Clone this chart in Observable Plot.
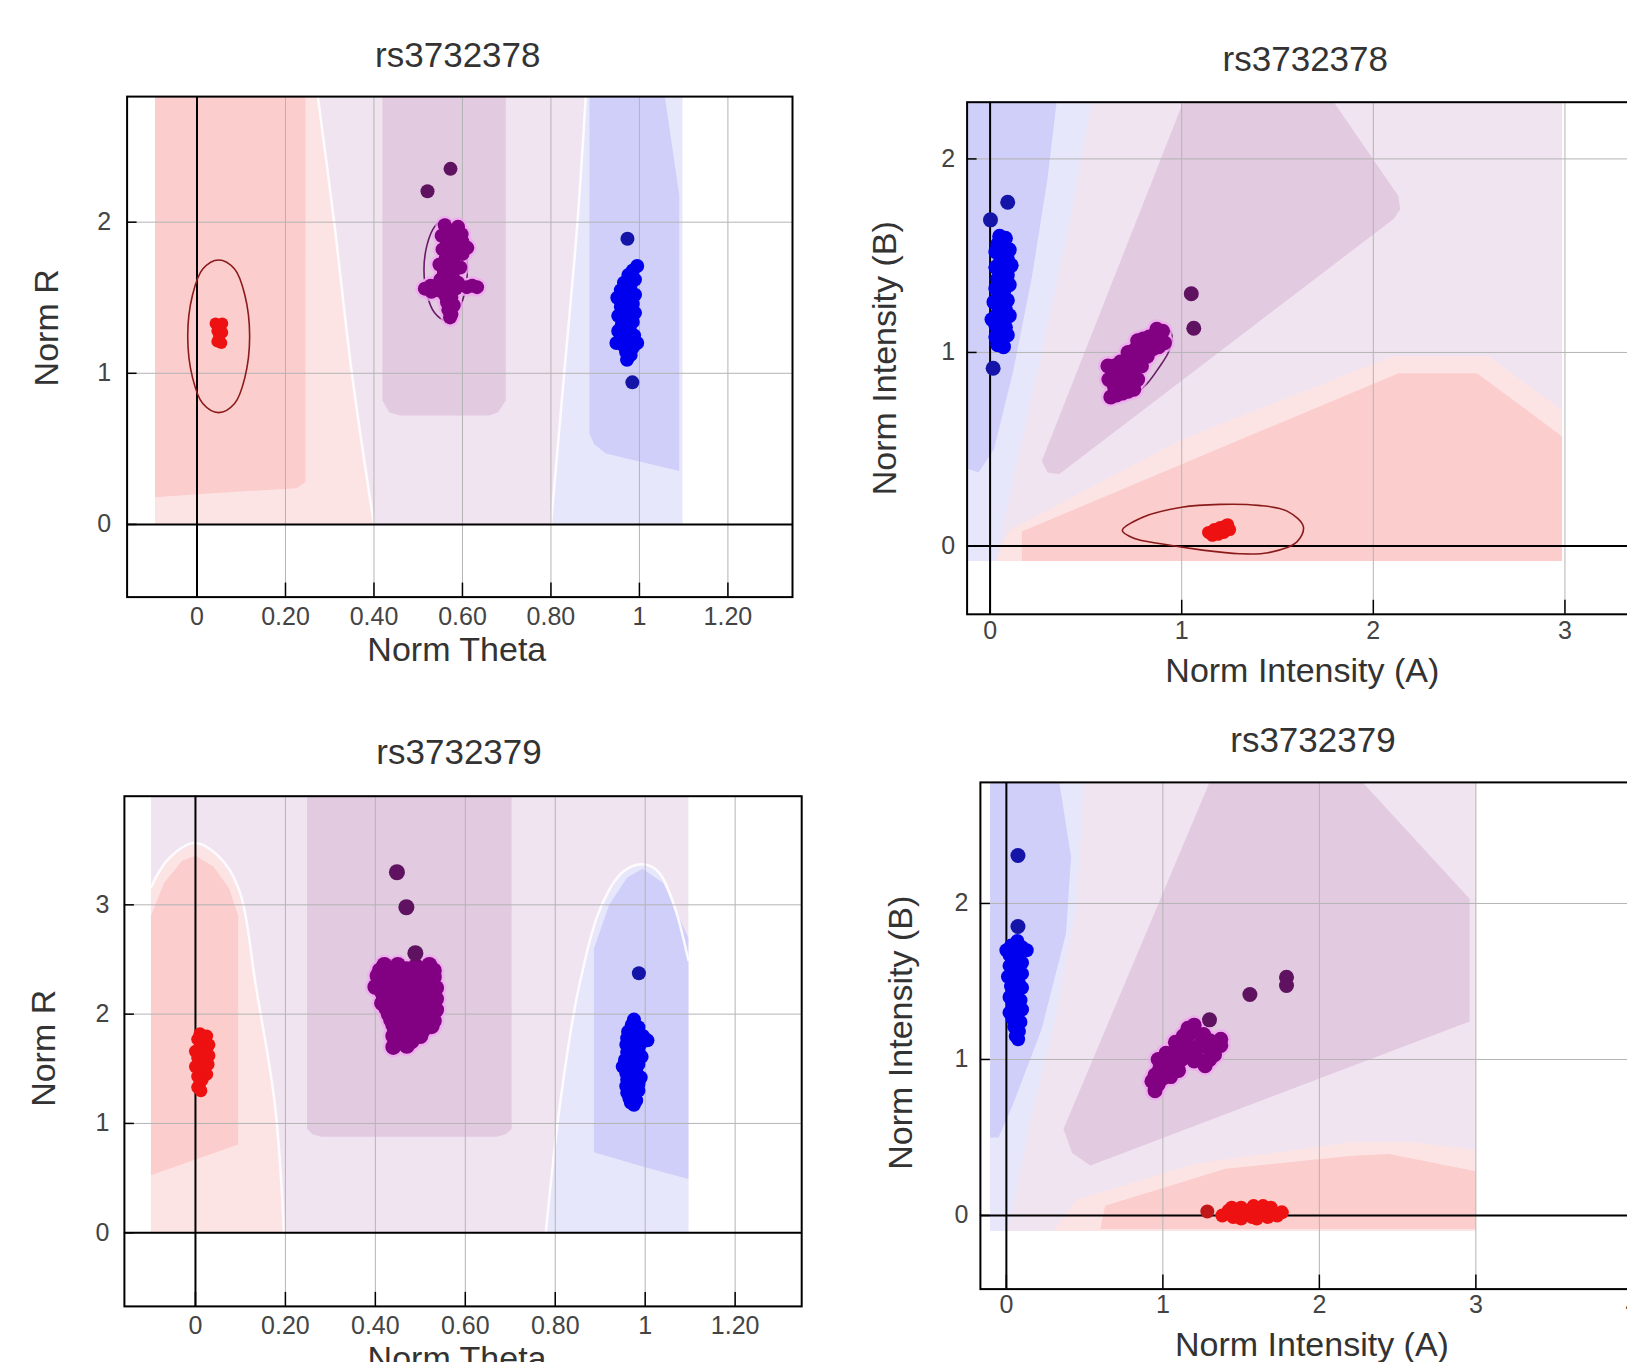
<!DOCTYPE html>
<html><head><meta charset="utf-8">
<script src="https://cdn.jsdelivr.net/npm/d3@7"></script>
<script src="https://cdn.jsdelivr.net/npm/@observablehq/plot@0.6"></script>
<style>
html,body{margin:0;padding:0;overflow:hidden;background:#fff;width:1627px;height:1362px;}
#wrap{position:relative;width:1627px;height:1362px;overflow:hidden;background:#fff;}
.panel{position:absolute;overflow:visible;}
.panel svg{max-width:none !important;display:block;}
</style></head><body><div id="wrap"></div>
<script>
// ---------------- text ----------------
const titles = ["rs3732378", "rs3732378", "rs3732379", "rs3732379"];
const xLabels = ["Norm Theta", "Norm Intensity (A)", "Norm Theta", "Norm Intensity (A)"];
const yLabels = ["Norm R", "Norm Intensity (B)", "Norm R", "Norm Intensity (B)"];
const thetaTicks = [0, 0.2, 0.4, 0.6, 0.8, 1, 1.2];
const thetaTickLabels = ["0", "0.20", "0.40", "0.60", "0.80", "1", "1.20"];
const intTicks2 = [0, 1, 2, 3];
const intTicks4 = [0, 1, 2, 3, 4];
const rTicks1 = [0, 1, 2];
const rTicks3 = [0, 1, 2, 3];
const bTicks = [0, 1, 2];

// ---------------- panel 1 : rs3732378 theta / R ----------------
const p1AA = [[0.042,1.33],[0.057,1.33],[0.046,1.28],[0.057,1.27],[0.05,1.24],[0.046,1.21],[0.055,1.2]];
const p1AB = [[0.560,1.98],[0.590,1.97],[0.575,1.94],[0.598,1.92],[0.553,1.91],[0.573,1.89],[0.600,1.87],[0.565,1.86],[0.585,1.85],[0.611,1.83],[0.555,1.82],[0.575,1.80],[0.600,1.79],[0.562,1.76],[0.580,1.74],[0.548,1.72],[0.570,1.70],[0.595,1.70],[0.558,1.67],[0.578,1.65],[0.550,1.62],[0.570,1.62],[0.590,1.60],[0.528,1.58],[0.515,1.56],[0.545,1.55],[0.565,1.57],[0.585,1.56],[0.610,1.57],[0.622,1.58],[0.633,1.57],[0.530,1.54],[0.560,1.52],[0.575,1.50],[0.565,1.47],[0.580,1.45],[0.568,1.42],[0.575,1.39],[0.572,1.37]];
const p1ABout = [[0.573,2.353],[0.521,2.205]];
const p1BB = [[0.995,1.71],[0.985,1.68],[0.975,1.65],[0.99,1.62],[0.965,1.6],[0.98,1.58],[0.958,1.55],[0.975,1.54],[0.99,1.52],[0.95,1.5],[0.968,1.48],[0.985,1.46],[0.958,1.44],[0.975,1.42],[0.99,1.4],[0.952,1.38],[0.968,1.36],[0.985,1.34],[0.96,1.32],[0.978,1.3],[0.952,1.28],[0.97,1.26],[0.988,1.25],[0.958,1.23],[0.975,1.21],[0.948,1.2],[0.995,1.2],[0.965,1.18],[0.985,1.17],[0.97,1.14],[0.98,1.12],[0.972,1.09]];
const p1BBout = [[0.973,1.89],[0.984,0.94]];
const p1EllAA = [[0.049,1.75],[0.085,1.69],[0.108,1.52],[0.119,1.245],[0.108,0.97],[0.085,0.80],[0.049,0.74],[0.013,0.80],[-0.010,0.97],[-0.021,1.245],[-0.010,1.52],[0.013,1.69]];
const p1EllAB = [[0.562,2.02],[0.587,1.97],[0.604,1.85],[0.611,1.685],[0.604,1.52],[0.587,1.40],[0.562,1.35],[0.537,1.40],[0.52,1.52],[0.513,1.685],[0.52,1.85],[0.537,1.97]];
const p1Regions = [
  {kind:"purpleOuter", pts:[[-0.095,0],[-0.095,2.9],[1.097,2.9],[1.097,0]]},
  {kind:"redOuter", pts:[[-0.095,0],[-0.095,2.9],[0.27,2.9],[0.31,2.0],[0.35,1.0],[0.40,0]]},
  {kind:"blueOuter", pts:[[0.80,0],[0.83,1.0],[0.86,2.0],[0.88,2.9],[1.097,2.9],[1.097,0]]},
  {kind:"redInner", pts:[[-0.095,0.18],[-0.095,2.9],[0.245,2.9],[0.245,0.28],[0.225,0.24],[0.0,0.2]]},
  {kind:"purpleInner", pts:[[0.419,0.82],[0.419,2.9],[0.698,2.9],[0.698,0.82],[0.68,0.74],[0.66,0.72],[0.46,0.72],[0.435,0.74]]},
  {kind:"blueInner", pts:[[0.887,0.6],[0.887,2.9],[1.054,2.9],[1.09,2.18],[1.09,0.354],[0.924,0.469],[0.898,0.531]]}
];
const p1Bounds = [
  [[0.27,2.9],[0.31,2.0],[0.35,1.0],[0.40,0]],
  [[0.80,0],[0.83,1.0],[0.86,2.0],[0.88,2.9]]
];

// ---------------- panel 2 : rs3732378 A / B ----------------
const p2AA = [[1.14,0.07],[1.17,0.085],[1.2,0.095],[1.23,0.105],[1.22,0.07],[1.25,0.085],[1.19,0.06],[1.16,0.055],[1.21,0.08],[1.24,0.11]];
const p2AB = [[0.63,0.77],[0.66,0.78],[0.69,0.79],[0.72,0.80],[0.75,0.81],[0.62,0.86],[0.65,0.82],[0.68,0.84],[0.71,0.85],[0.74,0.86],[0.77,0.86],[0.64,0.88],[0.67,0.90],[0.70,0.90],[0.73,0.91],[0.76,0.92],[0.79,0.93],[0.615,0.93],[0.65,0.93],[0.68,0.95],[0.71,0.96],[0.74,0.97],[0.77,0.98],[0.80,0.99],[0.72,1.00],[0.75,1.01],[0.78,1.03],[0.81,1.04],[0.84,1.05],[0.77,1.06],[0.80,1.07],[0.83,1.08],[0.86,1.09],[0.89,1.07],[0.85,1.02],[0.88,1.03],[0.82,0.98],[0.87,1.12],[0.90,1.11],[0.91,1.05]];
const p2ABout = [[1.05,1.303],[1.063,1.125]];
const p2BB = [[0.05,1.60],[0.08,1.59],[0.04,1.56],[0.07,1.55],[0.10,1.53],[0.03,1.52],[0.06,1.50],[0.09,1.48],[0.05,1.46],[0.11,1.45],[0.03,1.44],[0.07,1.42],[0.09,1.40],[0.04,1.38],[0.06,1.36],[0.10,1.35],[0.03,1.33],[0.07,1.31],[0.05,1.29],[0.09,1.27],[0.02,1.26],[0.06,1.24],[0.08,1.22],[0.04,1.20],[0.10,1.19],[0.01,1.17],[0.06,1.16],[0.03,1.14],[0.08,1.13],[0.05,1.11],[0.09,1.09],[0.03,1.08],[0.06,1.06],[0.04,1.04],[0.07,1.03]];
const p2BBout = [[0.092,1.776],[0.002,1.685],[0.016,0.918]];
const p2EllAA = [[0.69,0.08],[0.8,0.15],[1.0,0.2],[1.2,0.215],[1.4,0.21],[1.55,0.18],[1.635,0.1],[1.6,0.02],[1.45,-0.035],[1.3,-0.04],[1.1,-0.02],[0.9,0.01],[0.75,0.04]];
const p2EllAB = [[0.93,1.12],[0.95,1.08],[0.93,1.0],[0.88,0.92],[0.82,0.84],[0.76,0.79],[0.7,0.76],[0.66,0.77],[0.66,0.82],[0.7,0.9],[0.76,0.98],[0.82,1.05],[0.88,1.1]];
const p2Regions = [
  {kind:"purpleOuter", pts:[[-0.12,-0.077],[-0.12,2.4],[2.985,2.4],[2.985,-0.077]]},
  {kind:"blueOuter", pts:[[-0.12,-0.077],[-0.12,2.4],[0.55,2.4],[0.42,1.7],[0.27,1.0],[0.12,0.35],[0.03,-0.077]]},
  {kind:"blueInner", pts:[[-0.12,0.4],[-0.12,2.4],[0.36,2.4],[0.3,1.9],[0.22,1.4],[0.12,0.9],[0.02,0.5],[-0.06,0.38]]},
  {kind:"redOuter", pts:[[0.03,-0.077],[0.1,0.08],[1.0,0.55],[2.1,0.98],[2.6,0.98],[2.985,0.7],[2.985,-0.077]]},
  {kind:"redInner", pts:[[0.166,-0.077],[0.166,0.075],[2.132,0.893],[2.541,0.893],[2.985,0.566],[2.985,-0.077]]},
  {kind:"purpleInner", pts:[[1.05,2.4],[1.72,2.4],[2.13,1.81],[2.14,1.74],[2.106,1.69],[0.36,0.37],[0.30,0.38],[0.27,0.44]]}
];

// ---------------- panel 3 : rs3732379 theta / R ----------------
const p3AA = [[0.01,1.82],[0.025,1.8],[0.005,1.77],[0.02,1.75],[0.03,1.72],[0.01,1.7],[0.025,1.68],[0.0,1.66],[0.015,1.64],[0.03,1.62],[0.005,1.6],[0.02,1.58],[0.01,1.55],[0.028,1.54],[0.0,1.52],[0.018,1.5],[0.01,1.47],[0.025,1.45],[0.005,1.43],[0.015,1.4],[0.01,1.37],[0.005,1.33],[0.012,1.3]];
const p3AB = [[0.42,2.45],[0.45,2.45],[0.49,2.44],[0.52,2.45],[0.41,2.40],[0.44,2.40],[0.47,2.41],[0.50,2.40],[0.53,2.40],[0.405,2.35],[0.43,2.35],[0.46,2.35],[0.48,2.36],[0.51,2.35],[0.53,2.34],[0.41,2.30],[0.44,2.30],[0.47,2.30],[0.50,2.30],[0.525,2.29],[0.40,2.25],[0.425,2.25],[0.455,2.25],[0.485,2.25],[0.515,2.25],[0.535,2.24],[0.415,2.20],[0.44,2.20],[0.47,2.20],[0.50,2.20],[0.525,2.19],[0.42,2.15],[0.45,2.15],[0.48,2.15],[0.51,2.15],[0.535,2.14],[0.415,2.10],[0.44,2.10],[0.465,2.10],[0.495,2.10],[0.52,2.10],[0.425,2.05],[0.455,2.05],[0.485,2.05],[0.51,2.05],[0.535,2.04],[0.43,2.00],[0.46,2.00],[0.49,2.00],[0.52,2.00],[0.435,1.95],[0.465,1.95],[0.50,1.95],[0.53,1.94],[0.44,1.90],[0.47,1.90],[0.505,1.90],[0.525,1.89],[0.445,1.85],[0.475,1.85],[0.505,1.85],[0.44,1.80],[0.47,1.80],[0.50,1.80],[0.45,1.75],[0.48,1.75],[0.44,1.70],[0.47,1.71]];
const p3ABout = [[0.448,3.298],[0.469,2.978],[0.489,2.557]];
const p3BB = [[0.975,1.95],[0.97,1.9],[0.985,1.88],[0.962,1.84],[0.98,1.82],[0.995,1.8],[0.96,1.78],[0.975,1.76],[1.005,1.76],[0.99,1.73],[0.958,1.72],[0.972,1.7],[0.985,1.67],[0.96,1.65],[0.978,1.63],[0.992,1.61],[0.955,1.58],[0.97,1.56],[0.985,1.54],[0.95,1.52],[0.965,1.5],[0.98,1.48],[0.958,1.46],[0.975,1.44],[0.99,1.42],[0.96,1.4],[0.972,1.38],[0.985,1.36],[0.958,1.34],[0.97,1.32],[0.985,1.3],[0.96,1.28],[0.975,1.26],[0.965,1.23],[0.98,1.21],[0.968,1.19],[0.975,1.17]];
const p3BBout = [[0.986,2.374]];
const p3Regions = [
  {kind:"purpleOuter", pts:[[-0.099,0],[-0.099,4.1],[1.096,4.1],[1.096,0]]},
  {kind:"redOuter", pts:[[-0.099,0],[-0.099,3.16],[-0.06,3.42],[-0.002,3.565],[0.05,3.45],[0.095,3.16],[0.136,2.213],[0.177,1.159],[0.197,0]]},
  {kind:"redInner", pts:[[-0.099,0.527],[-0.099,2.9],[-0.07,3.2],[-0.03,3.4],[0.0,3.45],[0.04,3.35],[0.075,3.15],[0.095,2.9],[0.095,0.808]]},
  {kind:"purpleInner", pts:[[0.248,0.95],[0.248,4.1],[0.703,4.1],[0.703,0.95],[0.69,0.9],[0.67,0.878],[0.28,0.878],[0.26,0.9]]},
  {kind:"blueOuter", pts:[[0.779,0],[0.81,1.159],[0.851,2.213],[0.902,2.985],[0.95,3.3],[0.994,3.372],[1.03,3.3],[1.065,2.985],[1.096,2.494],[1.096,0]]},
  {kind:"blueInner", pts:[[0.886,0.737],[0.886,2.6],[0.92,3.0],[0.96,3.25],[0.994,3.33],[1.04,3.2],[1.096,2.7],[1.096,0.491],[1.0,0.6]]}
];
const p3Bounds = [
  [[-0.099,3.16],[-0.06,3.42],[-0.002,3.565],[0.05,3.45],[0.095,3.16],[0.136,2.213],[0.177,1.159],[0.197,0]],
  [[0.779,0],[0.81,1.159],[0.851,2.213],[0.902,2.985],[0.95,3.3],[0.994,3.372],[1.03,3.3],[1.065,2.985],[1.096,2.494]]
];

// ---------------- panel 4 : rs3732379 A / B ----------------
const p4AA = [[1.38,0.0],[1.42,0.03],[1.45,-0.01],[1.48,0.02],[1.5,0.05],[1.52,0.0],[1.55,0.03],[1.57,-0.01],[1.6,0.04],[1.62,0.01],[1.65,0.03],[1.67,-0.01],[1.7,0.02],[1.73,0.0],[1.76,0.02],[1.44,0.05],[1.58,0.06],[1.64,0.06],[1.5,-0.02],[1.6,-0.02],[1.69,0.05]];
const p4AAout = [[1.284,0.025]];
const p4AB = [[0.95,0.8],[0.93,0.86],[0.97,0.84],[0.95,0.9],[1.0,0.88],[0.98,0.94],[1.03,0.92],[1.0,0.98],[1.06,0.95],[1.03,1.01],[1.09,0.98],[1.06,1.04],[1.12,1.0],[0.97,1.0],[1.02,1.04],[1.09,1.07],[1.15,1.03],[1.12,1.09],[1.18,1.05],[1.08,1.11],[1.15,1.12],[1.21,1.07],[1.13,1.15],[1.18,1.17],[1.2,1.22],[1.16,1.2],[1.24,1.1],[1.28,1.08],[1.33,1.06],[1.37,1.09],[1.37,1.13],[1.3,1.12],[1.27,0.96],[1.23,1.0],[1.3,1.0],[1.2,0.99],[1.1,0.93],[1.05,0.89],[1.26,1.16],[1.33,1.03]];
const p4ABout = [[1.298,1.254],[1.556,1.416],[1.79,1.527],[1.79,1.474]];
const p4BB = [[0.07,1.76],[0.03,1.73],[0.1,1.72],[0.0,1.7],[0.06,1.7],[0.13,1.7],[0.02,1.67],[0.08,1.66],[0.05,1.63],[0.1,1.62],[0.02,1.6],[0.07,1.58],[0.04,1.56],[0.1,1.55],[0.01,1.53],[0.06,1.52],[0.08,1.49],[0.03,1.47],[0.1,1.46],[0.05,1.44],[0.07,1.41],[0.02,1.4],[0.09,1.38],[0.04,1.36],[0.06,1.33],[0.1,1.32],[0.02,1.3],[0.07,1.28],[0.04,1.26],[0.09,1.24],[0.05,1.21],[0.08,1.18],[0.06,1.15],[0.075,1.13]];
const p4BBout = [[0.074,2.307],[0.074,1.852]];
const p4Regions = [
  {kind:"purpleOuter", pts:[[-0.104,-0.099],[-0.104,2.9],[3.0,2.9],[3.0,-0.099]]},
  {kind:"blueOuter", pts:[[-0.104,-0.099],[-0.104,2.9],[0.5,2.9],[0.45,2.0],[0.3,1.2],[0.15,0.6],[0.05,0.1],[0.0,-0.099]]},
  {kind:"blueInner", pts:[[-0.104,0.5],[-0.104,2.9],[0.319,2.9],[0.413,2.3],[0.381,1.808],[0.225,1.194],[0.038,0.701],[-0.05,0.5]]},
  {kind:"purpleInner", pts:[[1.35,2.9],[2.163,2.9],[2.96,2.03],[2.96,1.243],[0.537,0.32],[0.42,0.4],[0.365,0.554]]},
  {kind:"redOuter", pts:[[0.3,-0.099],[0.45,0.1],[1.2,0.33],[2.2,0.47],[2.6,0.47],[3.0,0.42],[3.0,-0.099]]},
  {kind:"redInner", pts:[[0.6,-0.087],[0.631,0.062],[1.4,0.3],[2.194,0.381],[2.444,0.394],[3.0,0.283],[3.0,-0.087]]}
];

// ---------------- styles ----------------
const FONT = '"Liberation Sans",Arial,sans-serif';
const regionFill = {purpleOuter:"#f1e4f1", redOuter:"#fde4e4", blueOuter:"#e7e7fc", redInner:"#fbcdcd", purpleInner:"#e2cae1", blueInner:"#cfcff9"};
const C = {AA:"#ee1111", AAout:"#c01818", AB:"#820082", ABout:"#5e1260", BB:"#0000ee", BBout:"#1414a8", ABhalo:"#f0a8f0", ell1:"#8b1a1a", ell2:"#6a1a6a"};

const panels = [
  {pos:[0,0], box:{w:830,h:690,ml:126.6,mr:38,mt:96.1,mb:93.4}, xDom:[-0.158,1.346], yDom:[-0.481,2.831],
   xTicks:thetaTicks, xTickLabels:thetaTickLabels, yTicks:rTicks1, xPad:10, yPad:16,
   regions:p1Regions, bounds:p1Bounds, ells:[{pts:p1EllAA,c:C.ell1},{pts:p1EllAB,c:C.ell2}],
   clusters:[{pts:p1AA,c:C.AA,r:6},{pts:p1AB,c:C.AB,r:7,halo:C.ABhalo},{pts:p1ABout,c:C.ABout,r:7},{pts:p1BB,c:C.BB,r:7},{pts:p1BBout,c:C.BBout,r:7}],
   title:{dx:-2,dy:-41}, xl:{dx:-3,dy:53}, yl:{dx:-80,dy:-19}},
  {pos:[830,0], box:{w:830,h:700,ml:136.6,mr:17,mt:101.7,mb:86.2}, xDom:[-0.12,3.41], yDom:[-0.353,2.293],
   xTicks:intTicks2, xTickLabels:["0","1","2","3"], yTicks:bTicks, xPad:7, yPad:12,
   regions:p2Regions, bounds:[], ells:[{pts:p2EllAA,c:C.ell1},{pts:p2EllAB,c:C.ell2}],
   clusters:[{pts:p2AA,c:C.AA,r:6.5},{pts:p2AB,c:C.AB,r:7.5,halo:C.ABhalo},{pts:p2ABout,c:C.ABout,r:7.5},{pts:p2BB,c:C.BB,r:7.5},{pts:p2BBout,c:C.BBout,r:7.5}],
   title:{dx:0,dy:-42}, xl:{dx:-3,dy:57}, yl:{dx:-81.6,dy:0}},
  {pos:[0,700], box:{w:830,h:700,ml:123.9,mr:28.8,mt:95.7,mb:94.1}, xDom:[-0.158,1.348], yDom:[-0.674,3.994],
   xTicks:thetaTicks, xTickLabels:thetaTickLabels, yTicks:rTicks3, xPad:10, yPad:15,
   regions:p3Regions, bounds:p3Bounds, ells:[],
   clusters:[{pts:p3AA,c:C.AA,r:6.5},{pts:p3AB,c:C.AB,r:8,halo:C.ABhalo},{pts:p3ABout,c:C.ABout,r:8},{pts:p3BB,c:C.BB,r:7},{pts:p3BBout,c:C.BBout,r:7}],
   title:{dx:-4,dy:-43.7}, xl:{dx:-6,dy:53}, yl:{dx:-80.3,dy:-3}},
  {pos:[830,700], box:{w:830,h:700,ml:149.9,mr:15,mt:81.9,mb:111.4}, xDom:[-0.166,4.084], yDom:[-0.472,2.776],
   xTicks:intTicks4, xTickLabels:["0","1","2","3","4"], yTicks:bTicks, xPad:6, yPad:12,
   regions:p4Regions, bounds:[], ells:[],
   clusters:[{pts:p4AA,c:C.AA,r:7},{pts:p4AAout,c:C.AAout,r:7},{pts:p4AB,c:C.AB,r:7.5,halo:C.ABhalo},{pts:p4ABout,c:C.ABout,r:7.5},{pts:p4BB,c:C.BB,r:7},{pts:p4BBout,c:C.BBout,r:7.5}],
   title:{dx:0,dy:-41.6}, xl:{dx:-1,dy:56.4}, yl:{dx:-79.3,dy:-3}}
];

const X = d => d[0], Y = d => d[1];
const wrap = document.getElementById("wrap");

panels.forEach((p, i) => {
  const b = p.box;
  const fw = b.w - b.ml - b.mr, fh = b.h - b.mt - b.mb;
  const marks = [];
  for (const reg of p.regions) {
    marks.push(Plot.line(reg.pts, {x: X, y: Y, fill: regionFill[reg.kind], stroke: "none", curve: "linear-closed", clip: true}));
  }
  for (const bd of p.bounds) {
    marks.push(Plot.line(bd, {x: X, y: Y, stroke: "#ffffff", strokeWidth: 2.5, strokeOpacity: 0.85, curve: "catmull-rom", clip: true}));
  }
  marks.push(Plot.ruleX(p.xTicks, {stroke: "#b4b4b4", strokeWidth: 1}));
  marks.push(Plot.ruleY(p.yTicks, {stroke: "#b4b4b4", strokeWidth: 1}));
  marks.push(Plot.ruleX([0], {stroke: "#000", strokeWidth: 2}));
  marks.push(Plot.ruleY([0], {stroke: "#000", strokeWidth: 2}));
  for (const e of p.ells) {
    marks.push(Plot.line(e.pts, {x: X, y: Y, curve: "catmull-rom-closed", stroke: e.c, strokeWidth: 1.6, fill: "none", clip: true}));
  }
  for (const c of p.clusters) if (c.halo) {
    marks.push(Plot.dot(c.pts, {x: X, y: Y, r: c.r + 2.5, fill: c.halo, fillOpacity: 0.75, stroke: "none"}));
  }
  for (const c of p.clusters) {
    marks.push(Plot.dot(c.pts, {x: X, y: Y, r: c.r, fill: c.c, stroke: "none"}));
  }
  marks.push(Plot.frame({stroke: "#000", strokeWidth: 2}));
  marks.push(Plot.tickX(p.xTicks, {x: d => d, stroke: "#000", strokeWidth: 1.5, insetTop: fh - 14}));
  marks.push(Plot.tickY(p.yTicks, {y: d => d, stroke: "#000", strokeWidth: 1.5, insetRight: fw - 10}));
  marks.push(Plot.axisX(p.xTicks, {tickSize: 0, tickPadding: p.xPad, label: null, fontSize: 25, fill: "#444",
    tickFormat: d => p.xTickLabels[p.xTicks.indexOf(d)]}));
  marks.push(Plot.axisY(p.yTicks, {tickSize: 0, tickPadding: p.yPad, label: null, fontSize: 25, fill: "#444",
    tickFormat: d => String(d)}));
  marks.push(Plot.text([titles[i]], {text: d => d, frameAnchor: "top", dx: p.title.dx, dy: p.title.dy,
    fontSize: 35, textAnchor: "middle", lineAnchor: "middle", fill: "#333"}));
  marks.push(Plot.text([xLabels[i]], {text: d => d, frameAnchor: "bottom", dx: p.xl.dx, dy: p.xl.dy,
    fontSize: 34, textAnchor: "middle", lineAnchor: "middle", fill: "#333"}));
  marks.push(Plot.text([yLabels[i]], {text: d => d, frameAnchor: "left", dx: p.yl.dx, dy: p.yl.dy, rotate: -90,
    fontSize: 34, textAnchor: "middle", lineAnchor: "middle", fill: "#333"}));

  const svg = Plot.plot({
    width: b.w, height: b.h,
    marginLeft: b.ml, marginRight: b.mr, marginTop: b.mt, marginBottom: b.mb,
    x: {domain: p.xDom, label: null},
    y: {domain: p.yDom, label: null},
    style: {fontFamily: FONT, color: "#333", background: "transparent", maxWidth: "none"},
    marks
  });
  const div = document.createElement("div");
  div.className = "panel";
  div.style.left = p.pos[0] + "px";
  div.style.top = p.pos[1] + "px";
  div.style.width = b.w + "px";
  div.style.height = b.h + "px";
  div.appendChild(svg);
  wrap.appendChild(div);
});
</script></body></html>
